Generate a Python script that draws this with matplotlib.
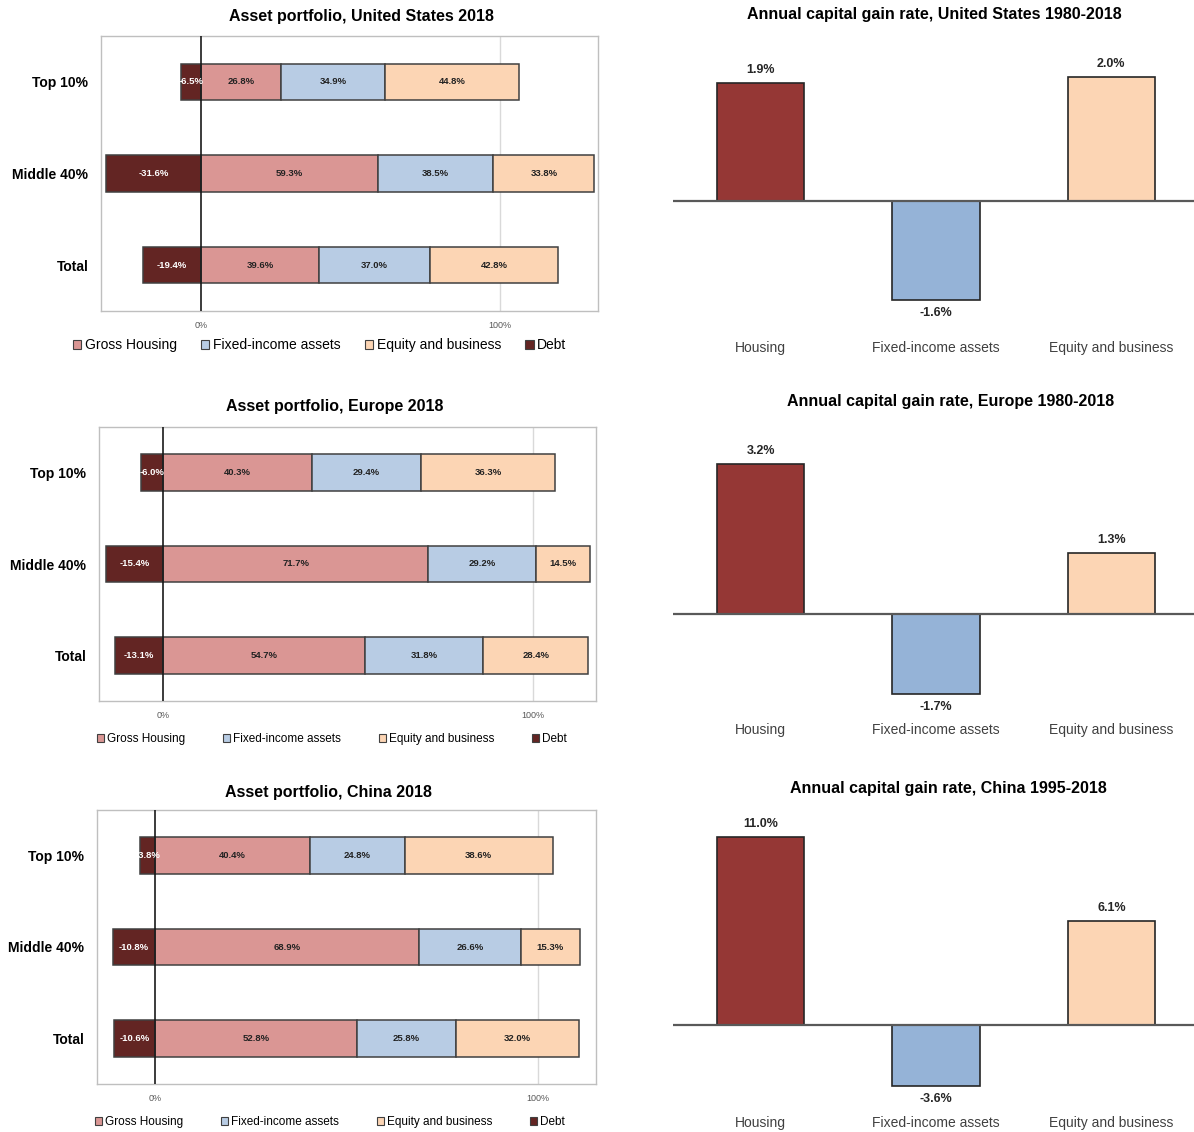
import matplotlib
matplotlib.use("Agg")
import matplotlib.pyplot as plt
import numpy as np

plt.rcParams["font.family"] = ["Liberation Sans", "DejaVu Sans"]

# ── data ────────────────────────────────────────────────────────────────────
groups = ["Top 10%", "Middle 40%", "Total"]
series = ["Gross Housing", "Fixed-income assets", "Equity and business", "Debt"]

us_debt    = [-6.5, -31.6, -19.4]
us_housing = [26.8, 59.3, 39.6]
us_fixed   = [34.9, 38.5, 37.0]
us_equity  = [44.8, 33.8, 42.8]

eu_debt    = [-6.0, -15.4, -13.1]
eu_housing = [40.3, 71.7, 54.7]
eu_fixed   = [29.4, 29.2, 31.8]
eu_equity  = [36.3, 14.5, 28.4]

cn_debt    = [-3.8, -10.8, -10.6]
cn_housing = [40.4, 68.9, 52.8]
cn_fixed   = [24.8, 26.6, 25.8]
cn_equity  = [38.6, 15.3, 32.0]

gain_cats = ["Housing", "Fixed-income assets", "Equity and business"]
us_gain = [1.9, -1.6, 2.0]
eu_gain = [3.2, -1.7, 1.3]
cn_gain = [11.0, -3.6, 6.1]

# ── colours ─────────────────────────────────────────────────────────────────
C_HOUSE  = "#DA9694"
C_FIXED  = "#B8CCE4"
C_EQUITY = "#FCD5B4"
C_DEBT   = "#632523"
GAIN_COLORS = ["#953735", "#95B3D7", "#FCD5B4"]

W, H = 1194, 1132
fig = plt.figure(figsize=(W / 100, H / 100), dpi=100)


def px_axes(x0, y0, x1, y1):
    return fig.add_axes([x0 / W, 1 - y1 / H, (x1 - x0) / W, (y1 - y0) / H])


def portfolio(box, xlim, debt, house, fixed, equity, title, title_xy,
              leg_x, leg_y, leg_fs, leg_gap):
    ax = px_axes(*box)
    y = np.arange(len(groups))
    h = 0.4
    kw = dict(height=h, edgecolor="#404040", linewidth=1.1, zorder=3)
    ax.barh(y, debt, color=C_DEBT, **kw)
    ax.barh(y, house, color=C_HOUSE, **kw)
    left2 = np.array(house)
    ax.barh(y, fixed, left=left2, color=C_FIXED, **kw)
    left3 = left2 + np.array(fixed)
    ax.barh(y, equity, left=left3, color=C_EQUITY, **kw)

    lab = dict(ha="center", va="center", fontsize=6.8, fontweight="bold", zorder=5)
    for i in range(len(groups)):
        ax.text(debt[i] / 2, y[i], f"{debt[i]:.1f}%", color="white", **lab)
        ax.text(house[i] / 2, y[i], f"{house[i]:.1f}%", color="#222222", **lab)
        ax.text(left2[i] + fixed[i] / 2, y[i], f"{fixed[i]:.1f}%", color="#222222", **lab)
        ax.text(left3[i] + equity[i] / 2, y[i], f"{equity[i]:.1f}%", color="#222222", **lab)

    ax.axvline(0, color="#1a1a1a", lw=1.2, zorder=4)
    ax.axvline(100, color="#D9D9D9", lw=1.0, zorder=1)
    ax.set_xlim(*xlim)
    ax.set_ylim(2.5, -0.5)
    ax.set_yticks(y)
    ax.set_yticklabels(groups, fontsize=10, fontweight="bold")
    ax.set_xticks([0, 100])
    ax.set_xticklabels(["0%", "100%"], fontsize=6.5, color="#595959")
    ax.tick_params(length=0, axis="y", pad=9)
    ax.tick_params(length=0, axis="x", pad=7)
    for s in ax.spines.values():
        s.set_color("#BFBFBF")
        s.set_linewidth(1.0)

    fig.text(title_xy[0] / W, 1 - title_xy[1] / H, title, ha="center", va="center",
             fontsize=11.5, fontweight="bold")

    handles = [plt.Rectangle((0, 0), 1, 1, fc=c, ec="#404040", lw=0.8)
               for c in (C_HOUSE, C_FIXED, C_EQUITY, C_DEBT)]
    fig.legend(handles, series, loc="center left",
               bbox_to_anchor=(leg_x / W, 1 - leg_y / H), ncol=4, frameon=False,
               fontsize=leg_fs, handlelength=0.6, handleheight=0.6,
               handletextpad=0.25, columnspacing=leg_gap, borderpad=0,
               borderaxespad=0)
    return ax


def gains(box, ylim, vals, title, title_xy):
    ax = px_axes(*box)
    x = np.arange(len(gain_cats))
    ax.bar(x, vals, width=0.5, color=GAIN_COLORS, edgecolor="#262626",
           linewidth=1.2, zorder=3)
    ax.axhline(0, color="#595959", lw=1.6, zorder=4)
    for xi, v in zip(x, vals):
        ax.annotate(f"{v:.1f}%", (xi, v), xytext=(0, 5 if v > 0 else -5),
                    textcoords="offset points", ha="center",
                    va="bottom" if v > 0 else "top",
                    fontsize=9, fontweight="bold", color="#262626")
    ax.set_xlim(-0.5, 2.5)
    ax.set_ylim(*ylim)
    ax.set_xticks(x)
    ax.set_xticklabels(gain_cats, fontsize=10, color="#404040")
    ax.tick_params(length=0, axis="x", pad=8)
    ax.set_yticks([])
    for s in ax.spines.values():
        s.set_visible(False)
    fig.text(title_xy[0] / W, 1 - title_xy[1] / H, title, ha="center", va="center",
             fontsize=11.5, fontweight="bold")
    return ax


portfolio((101, 36, 598, 311), (-33.4, 132.8), us_debt, us_housing, us_fixed, us_equity,
          "Asset portfolio, United States 2018", (361, 16), 73, 345, 10, 1.75)
portfolio((99, 427, 596, 701), (-17.3, 117.0), eu_debt, eu_housing, eu_fixed, eu_equity,
          "Asset portfolio, Europe 2018", (335, 407), 97, 739, 8.5, 3.2)
portfolio((97, 810, 596, 1084), (-15.1, 115.1), cn_debt, cn_housing, cn_fixed, cn_equity,
          "Asset portfolio, China 2018", (328, 793), 95, 1122, 8.5, 3.2)

gains((673, 40, 1199, 330), (-2.08, 2.6), us_gain,
      "Annual capital gain rate, United States 1980-2018", (934, 14))
gains((673, 425, 1199, 712), (-2.09, 4.04), eu_gain,
      "Annual capital gain rate, Europe 1980-2018", (951, 401))
gains((673, 810, 1199, 1105), (-4.7, 12.6), cn_gain,
      "Annual capital gain rate, China 1995-2018", (948, 788))

fig.savefig("out.png", dpi=100)
